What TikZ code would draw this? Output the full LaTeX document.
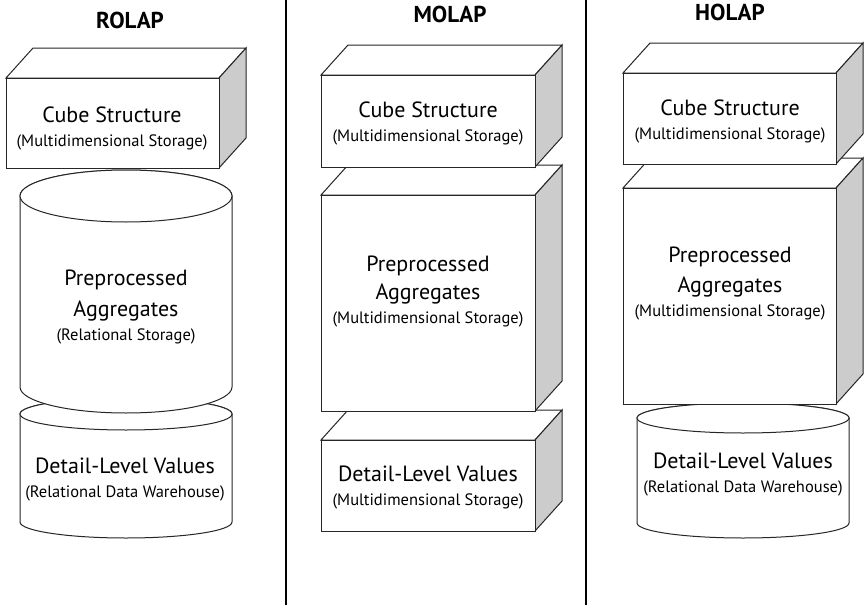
\documentclass[tikz,border=0pt]{standalone}
\usepackage{fontspec}
\setmainfont{PT Sans}
\usepackage{tikz}
\usetikzlibrary{positioning}
\tikzset{face/.style={draw=black!85, line width=1pt, fill=white},
  sideface/.style={draw=black!85, line width=1pt, fill=black!20},
  lbl/.style={align=center, inner sep=0pt, font=\fontsize{22}{28}\selectfont},
  title/.style={font=\fontsize{23}{26}\selectfont\bfseries, inner sep=0pt}}
\newcommand{\subf}{\fontsize{16.5}{28}\selectfont}
% x1, x2, front top, front bottom
\newcommand{\cuboid}[4]{%
  \filldraw[face] (#1,#3) -- (#1+27,#3+30) -- (#2+27,#3+30) -- (#2,#3) -- cycle;
  \filldraw[sideface] (#2,#3) -- (#2+27,#3+30) -- (#2+27,#4+30) -- (#2,#4) -- cycle;
  \filldraw[face] (#1,#3) rectangle (#2,#4);}
% centre x, x radius, top, bottom, y radius
\newcommand{\dbcyl}[5]{%
  \filldraw[face] (#1-#2,#3) -- (#1-#2,#4) arc[start angle=180, end angle=360, x radius=#2pt, y radius=#5pt]
    -- (#1+#2,#3) arc[start angle=0, end angle=180, x radius=#2pt, y radius=#5pt] -- cycle;
  \draw[face] (#1,#3) ellipse[x radius=#2pt, y radius=#5pt];}

\begin{document}
\begin{tikzpicture}[x=1pt, y=1pt]
   \useasboundingbox (0,0) rectangle (865,-605);
   % column dividers
   \coordinate (d1t) at (286,0);   \coordinate (d1b) at (286,-605);
   \coordinate (d2t) at (586,0);   \coordinate (d2b) at (586,-605);
   \draw[line width=2pt] (d1t) -- (d1b);
   \draw[line width=2pt] (d2t) -- (d2b);

   % ROLAP
   \dbcyl{126}{106}{-414}{-522}{16}
   \dbcyl{126}{106}{-196}{-387}{26}
   \cuboid{6}{219}{-78}{-168}
   \node[title] (rolap) at (130,-20) {ROLAP};
   \node[lbl] (rcube) at (112,-128) {Cube Structure\\[-4pt]\subf (Multidimensional Storage)};
   \node[lbl] (ragg) at (126,-307) {Preprocessed\\[3pt]Aggregates\\[-4pt]\subf (Relational Storage)};
   \node[lbl] (rdet) at (125,-480) {Detail-Level Values\\[-4pt]\subf (Relational Data Warehouse)};

   % MOLAP
   \cuboid{321}{535}{-440}{-531}
   \cuboid{321}{535}{-195}{-411}
   \cuboid{321}{535}{-75}{-167}
   \node[title] (molap) at (450,-14) {MOLAP};
   \node[lbl] (mcube) at (428,-123) {Cube Structure\\[-4pt]\subf (Multidimensional Storage)};
   \node[lbl] (magg) at (428,-292) {Preprocessed\\Aggregates\\[-4pt]\subf (Multidimensional Storage)};
   \node[lbl] (mdet) at (428,-488) {Detail-Level Values\\[-4pt]\subf (Multidimensional Storage)};

   % HOLAP
   \dbcyl{743}{106}{-418}{-523}{15}
   \cuboid{623}{836}{-188}{-404}
   \cuboid{623}{836}{-73}{-164}
   \node[title] (holap) at (730,-12) {HOLAP};
   \node[lbl] (hcube) at (730,-121) {Cube Structure\\[-4pt]\subf (Multidimensional Storage)};
   \node[lbl] (hagg) at (730,-284) {Preprocessed\\[2pt]Aggregates\\[-4pt]\subf (Multidimensional Storage)};
   \node[lbl] (hdet) at (743,-475) {Detail-Level Values\\[-4pt]\subf (Relational Data Warehouse)};
\end{tikzpicture}
\end{document}
